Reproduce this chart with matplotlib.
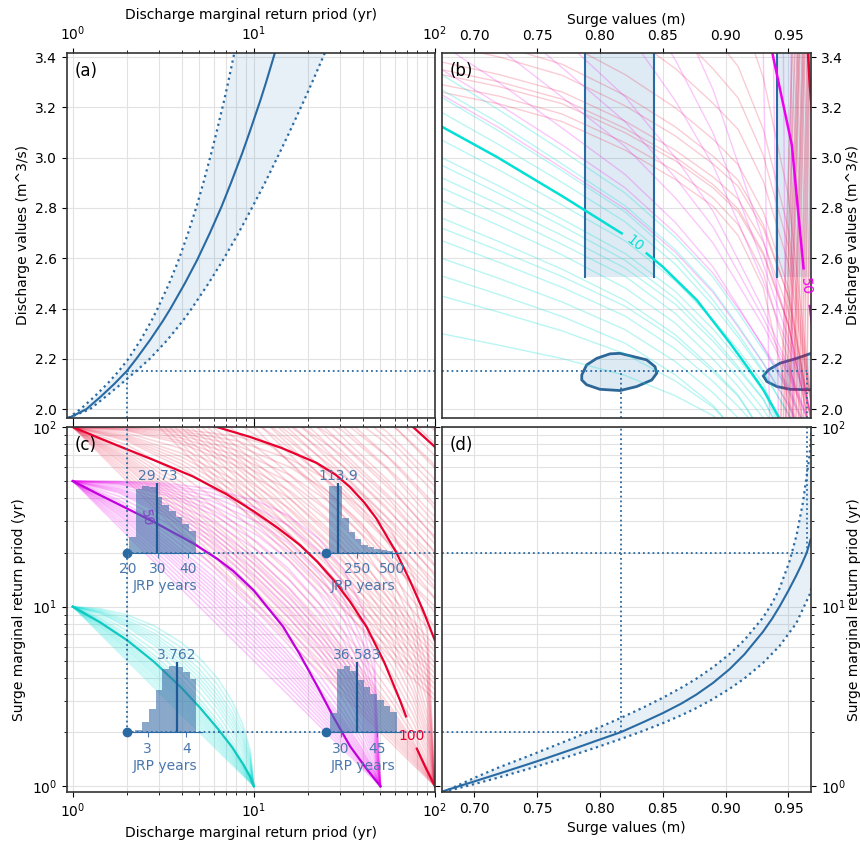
import numpy as np
import matplotlib
matplotlib.use("Agg")
import matplotlib.pyplot as plt

# ---------------- panel (a): discharge vs marginal return period
a_q = [1.965, 2.0, 2.05, 2.1, 2.152, 2.2, 2.275, 2.35, 2.4, 2.5, 2.593, 2.7, 2.806,
       2.9, 3.018, 3.1, 3.23, 3.3, 3.416]
a_t_mid = [0.951, 1.189, 1.429, 1.694, 1.991, 2.244, 2.673, 3.141, 3.467, 4.159, 4.864, 5.715,
           6.637, 7.482, 8.630, 9.462, 10.89, 11.69, 13.06]
a_t_lo = [0.946, 1.103, 1.318, 1.549, 1.799, 2.028, 2.371, 2.714, 2.941, 3.408, 3.843, 4.335,
          4.828, 5.264, 5.821, 6.219, 6.866, 7.217, 7.80]
a_t_hi = [0.946, 1.245, 1.522, 1.848, 2.243, 2.662, 3.332, 4.043, 4.537, 5.62, 6.755, 8.227,
          9.854, 11.52, 13.85, 15.69, 19.0, 21.0, 24.65]

# ---------------- panel (d): surge vs marginal return period
d_s_mid = [0.6753, 0.70, 0.7178, 0.74, 0.7575, 0.78, 0.7973, 0.8165, 0.835, 0.8502, 0.865,
           0.8767, 0.89, 0.9032, 0.915, 0.9297, 0.937, 0.943, 0.950, 0.9562, 0.9605, 0.9646, 0.9676]
d_t = [0.940, 1.065, 1.166, 1.308, 1.435, 1.625, 1.795, 2.0, 2.284, 2.559, 2.893, 3.240, 3.764,
       4.490, 5.431, 7.244, 8.568, 10.04, 12.29, 14.89, 17.20, 20.0, 23.6]
d_lo_s = [0.6753, 0.70, 0.7178, 0.74, 0.7575, 0.78, 0.7973, 0.8165, 0.835, 0.8502, 0.865,
          0.8767, 0.89, 0.9032, 0.915, 0.9297, 0.937, 0.943, 0.9509, 0.9565, 0.9615, 0.9668, 0.9685]
d_lo_t = [0.929, 1.114, 1.260, 1.446, 1.616, 1.869, 2.098, 2.400, 2.757, 3.116, 3.547, 3.972,
          4.600, 5.453, 6.524, 8.69, 10.45, 12.68, 17.91, 25.06, 37.93, 69.8, 99.3]
d_hi_s = [0.6753, 0.70, 0.7178, 0.74, 0.7575, 0.78, 0.7973, 0.8165, 0.835, 0.8502, 0.865,
          0.8767, 0.89, 0.9032, 0.915, 0.9297, 0.943, 0.9562, 0.9668, 0.975]
d_hi_t = [0.929, 1.029, 1.112, 1.232, 1.341, 1.503, 1.648, 1.832, 2.042, 2.248, 2.490, 2.726,
          3.062, 3.490, 3.987, 4.853, 6.049, 8.074, 11.65, 18.67]

# design events
event_tq = 2
event_q = 2.152
event_ts = [2, 20]
event_s = [0.8165, 0.9646]
anchor_tq = [2, 25]

# axis limits
t_lim = (0.93, 100)
q_lim = (1.965, 3.416)
s_lim = (0.6743, 0.968)

# ---------------- panel (c): joint return period isolines
# member shapes in normalised log space: u = log(TQ)/log(L), v = log(TS)/log(L)
u_grid = [0, 0.15, 0.3, 0.45, 0.6, 0.7, 0.8, 0.88, 0.94, 0.98, 1.0]
member_v = [
    [1, 0.850, 0.700, 0.550, 0.400, 0.300, 0.200, 0.120, 0.060, 0.020, 0],
    [1, 0.860, 0.714, 0.566, 0.416, 0.315, 0.212, 0.130, 0.066, 0.023, 0],
    [1, 0.869, 0.728, 0.583, 0.433, 0.331, 0.225, 0.139, 0.072, 0.026, 0],
    [1, 0.878, 0.741, 0.598, 0.448, 0.345, 0.237, 0.148, 0.078, 0.028, 0],
    [1, 0.887, 0.755, 0.614, 0.464, 0.360, 0.250, 0.158, 0.084, 0.031, 0],
    [1, 0.893, 0.765, 0.627, 0.478, 0.373, 0.262, 0.168, 0.091, 0.034, 0],
    [1, 0.900, 0.776, 0.640, 0.492, 0.387, 0.274, 0.178, 0.098, 0.038, 0],
    [1, 0.906, 0.786, 0.653, 0.506, 0.400, 0.286, 0.187, 0.104, 0.041, 0],
    [1, 0.912, 0.797, 0.666, 0.521, 0.414, 0.299, 0.197, 0.111, 0.045, 0],
    [1, 0.918, 0.807, 0.679, 0.535, 0.427, 0.311, 0.207, 0.118, 0.048, 0],
    [1, 0.925, 0.818, 0.692, 0.549, 0.441, 0.323, 0.217, 0.125, 0.052, 0],
    [1, 0.932, 0.832, 0.711, 0.571, 0.464, 0.345, 0.236, 0.140, 0.061, 0],
    [1, 0.939, 0.846, 0.730, 0.593, 0.487, 0.367, 0.255, 0.155, 0.070, 0],
    [1, 0.950, 0.866, 0.758, 0.626, 0.521, 0.400, 0.283, 0.177, 0.083, 0],
    [1, 0.961, 0.887, 0.787, 0.659, 0.556, 0.432, 0.312, 0.199, 0.096, 0],
    [1, 0.965, 0.897, 0.803, 0.680, 0.580, 0.457, 0.336, 0.220, 0.111, 0],
    [1, 0.969, 0.907, 0.819, 0.701, 0.603, 0.482, 0.361, 0.242, 0.127, 0],
    [1, 0.973, 0.917, 0.835, 0.722, 0.627, 0.507, 0.385, 0.263, 0.142, 0],
    [1, 0.977, 0.927, 0.851, 0.744, 0.651, 0.533, 0.410, 0.284, 0.158, 0],
    [1, 0.983, 0.940, 0.872, 0.772, 0.682, 0.566, 0.442, 0.312, 0.178, 0],
    [1, 0.989, 0.954, 0.893, 0.800, 0.714, 0.600, 0.475, 0.341, 0.199, 0],
    [1, 0.991, 0.961, 0.907, 0.822, 0.742, 0.633, 0.510, 0.376, 0.229, 0],
    [1, 0.993, 0.969, 0.922, 0.845, 0.770, 0.666, 0.546, 0.411, 0.259, 0],
    [1, 0.995, 0.976, 0.936, 0.866, 0.797, 0.697, 0.580, 0.445, 0.289, 0],
    [1, 0.997, 0.983, 0.950, 0.888, 0.824, 0.729, 0.615, 0.480, 0.319, 0],
    [1, 0.998, 0.988, 0.962, 0.911, 0.855, 0.770, 0.663, 0.532, 0.370, 0],
    [1, 0.999, 0.993, 0.975, 0.934, 0.887, 0.810, 0.711, 0.585, 0.421, 0],
]
jrp_levels = [10, 50, 100, 300, 1000]
jrp_members = [21, 27, 27, 27, 27]

c_cyan_tq = [1, 1.41, 2.0, 2.82, 3.98, 5.01, 6.31, 7.59, 8.71, 9.55, 10]
c_cyan_ts = [10, 8.2, 6.5, 4.92, 3.54, 2.76, 2.10, 1.65, 1.33, 1.13, 1]
c_mag_tq = [1, 1.42, 1.98, 2.82, 4.63, 6.31, 7.69, 10, 14.5, 17.8, 22.2, 27.5, 34, 41.7, 50]
c_mag_ts = [50, 41.7, 35.3, 29.5, 22.5, 18.4, 15.8, 12.3, 7.74, 5.5, 3.67, 2.43, 1.67, 1.26, 1]
c_red_tq = [1, 1.41, 2.0, 2.82, 4.6, 7.08, 10, 13.5, 18.0, 22.4, 28.0, 33.9, 42.0, 52.5,
            64.0, 69.2, np.nan, 79.4, 89.1, 100]
c_red_ts = [100, 86.5, 75.0, 65.3, 53.1, 42.2, 33.9, 27.5, 22.0, 17.8, 13.8, 10.7, 7.69, 4.90,
            3.02, 2.45, np.nan, 1.62, 1.26, 1]
c_red2_tq = [5.25, 6.24, 9.5, 14.1, 22.2, 28.2, 33.8, 40.7, 47.5, 61.2, 72.4, 85.9, 100]
c_red2_ts = [104.7, 100, 88.1, 76.7, 63.1, 54.3, 46.5, 38.0, 30.9, 20.0, 14.1, 9.55, 6.46]
c_red3_tq = [72, 75.7, 100, 104]
c_red3_ts = [104, 100, 77.4, 73]

# histograms of joint return periods
hist_tq_span = [(2, 5.18), (25, 64.7), (2, 5.18), (25, 64.7)]
hist_ts_span = [(20, 49), (20, 49), (2, 4.9), (2, 4.9)]
hist_edges = [
    [20.4, 22.6, 24.8, 27.0, 29.2, 31.4, 33.6, 35.8, 38.0, 40.2, 42.4],
    [50, 96, 142, 188, 234, 280, 326, 372, 418, 464, 510],
    [2.68, 2.86, 3.03, 3.21, 3.38, 3.56, 3.74, 3.91, 4.09, 4.26],
    [25.5, 28.3, 31.1, 33.9, 36.7, 39.5, 42.3, 45.1, 47.9, 50.7, 53.5],
]
hist_counts = [
    [45, 190, 198, 196, 165, 140, 125, 105, 85, 65],
    [185, 185, 97, 57, 37, 22, 15, 11, 7, 5],
    [8, 30, 70, 130, 195, 205, 200, 185, 165],
    [60, 195, 205, 190, 160, 138, 118, 100, 80, 62],
]
hist_median = [29.73, 113.9, 3.762, 36.583]
hist_xlim = [(19.8, 44.5), (26, 562), (2.475, 4.41), (23.75, 55)]
hist_ticks = [[20, 30, 40], [250, 500], [3, 4], [30, 45]]

# ---------------- panel (b): isolines in physical space
b_s_grid = [0.674, 0.72, 0.77, 0.82, 0.86, 0.89, 0.91, 0.93, 0.95, 0.97]
b_cyan_q = [
    [3.27, 3.136, 2.974, 2.809, 2.634, 2.471, 2.332, 2.184, 2.017, 1.8],
    [3.24, 3.104, 2.947, 2.784, 2.606, 2.434, 2.300, 2.152, 1.980, 1.8],
    [3.18, 3.050, 2.901, 2.745, 2.576, 2.412, 2.285, 2.144, 1.981, 1.8],
    [3.07, 2.950, 2.811, 2.669, 2.510, 2.355, 2.236, 2.102, 1.85, 1.7],
    [3.00, 2.886, 2.755, 2.619, 2.468, 2.318, 2.201, 2.075, 1.85, 1.7],
    [2.97, 2.857, 2.728, 2.592, 2.440, 2.286, 2.168, 2.041, 1.85, 1.7],
    [2.92, 2.813, 2.690, 2.561, 2.417, 2.270, 2.158, 2.038, 1.85, 1.7],
    [2.88, 2.776, 2.655, 2.528, 2.380, 2.235, 2.125, 1.999, 1.85, 1.7],
    [2.83, 2.729, 2.613, 2.482, 2.342, 2.199, 2.090, 1.965, 1.8, 1.7],
    [2.76, 2.665, 2.556, 2.432, 2.296, 2.159, 2.056, 1.9, 1.8, 1.7],
    [2.72, 2.630, 2.527, 2.409, 2.279, 2.149, 2.051, 1.9, 1.8, 1.7],
    [2.67, 2.583, 2.484, 2.370, 2.239, 2.110, 2.011, 1.9, 1.8, 1.7],
    [2.60, 2.519, 2.426, 2.316, 2.189, 2.065, 1.965, 1.88, 1.8, 1.7],
    [2.53, 2.455, 2.368, 2.262, 2.136, 2.015, 1.9, 1.85, 1.8, 1.7],
    [2.45, 2.385, 2.311, 2.220, 2.112, 2.008, 1.9, 1.85, 1.8, 1.7],
    [2.30, 2.254, 2.201, 2.134, 2.053, 1.974, 1.9, 1.85, 1.8, 1.7],
    [3.33, 3.188, 3.027, 2.859, 2.683, 2.525, 2.384, 2.235, 2.081, 1.85],
]
b_mag_q = [
    [3.25, 3.118, 2.958, 2.796, 2.624, 2.464, 2.326, 2.181, 2.016, 1.8],
    [3.35, 3.210, 3.050, 2.880, 2.700, 2.540, 2.400, 2.250, 2.090, 1.85],
    [3.45, 3.297, 3.117, 2.933, 2.742, 2.565, 2.408, 2.246, 2.069, 1.85],
    [3.60, 3.433, 3.240, 3.044, 2.840, 2.660, 2.496, 2.330, 2.138, 1.9],
    [3.75, 3.568, 3.357, 3.143, 2.920, 2.724, 2.545, 2.361, 2.154, 1.9],
    [3.90, 3.700, 3.474, 3.242, 3.000, 2.787, 2.594, 2.395, 2.170, 1.9],
    [4.30, 4.064, 3.790, 3.510, 3.226, 2.969, 2.743, 2.507, 2.245, 1.95],
    [4.60, 4.334, 4.026, 3.709, 3.388, 3.098, 2.842, 2.576, 2.281, 1.95],
    [5.00, 4.693, 4.338, 3.974, 3.604, 3.270, 2.976, 2.669, 2.329, 1.95],
]
b_red_q = [
    [3.26, 3.213, 3.143, 3.030, 2.913, 2.807, 2.690, 2.483, 2.030, 1.8],
    [3.29, 3.244, 3.173, 3.059, 2.946, 2.840, 2.734, 2.541, 2.190, 1.8],
    [3.33, 3.282, 3.214, 3.099, 2.987, 2.880, 2.784, 2.613, 2.334, 1.85],
    [3.35, 3.301, 3.232, 3.116, 3.002, 2.893, 2.796, 2.623, 2.339, 1.85],
    [3.38, 3.330, 3.261, 3.145, 3.029, 2.923, 2.835, 2.665, 2.394, 1.9],
    [3.45, 3.400, 3.327, 3.206, 3.086, 2.975, 2.886, 2.718, 2.448, 1.9],
    [3.50, 3.446, 3.371, 3.247, 3.122, 3.006, 2.910, 2.734, 2.448, 1.9],
    [3.60, 3.543, 3.463, 3.330, 3.198, 3.073, 2.972, 2.784, 2.480, 1.9],
    [3.80, 3.738, 3.648, 3.499, 3.354, 3.216, 3.112, 2.906, 2.580, 1.95],
    [4.00, 3.931, 3.831, 3.666, 3.505, 3.353, 3.237, 3.009, 2.647, 1.95],
    [4.20, 4.124, 4.015, 3.833, 3.657, 3.489, 3.362, 3.112, 2.714, 1.95],
    [4.60, 4.510, 4.381, 4.168, 3.960, 3.762, 3.612, 3.317, 2.848, 1.95],
]
# nearly vertical isolines hugging the right edge (surge at top / bottom of panel)
b_steep_red_top = [0.953, 0.955, 0.957, 0.958, 0.959, 0.961, 0.962, 0.963, 0.965, 0.966, 0.967, 0.969]
b_steep_red_bot = [0.944, 0.946, 0.948, 0.950, 0.951, 0.953, 0.954, 0.956, 0.958, 0.960, 0.962, 0.964]
b_steep_mag_top = [0.930, 0.938, 0.946, 0.952]
b_steep_mag_bot = [0.935, 0.942, 0.948, 0.953]

b_cyan_med_s = [0.6745, 0.7178, 0.7709, 0.8173, np.nan, 0.8372, 0.850, 0.877, 0.9036, 0.919, 0.930, 0.942]
b_cyan_med_q = [3.122, 3.003, 2.844, 2.699, np.nan, 2.619, 2.566, 2.434, 2.262, 2.156, 2.077, 1.971]
b_mag_med_s = [0.937, 0.9527, 0.962, np.nan, 0.967, 0.972]
b_mag_med_q = [3.42, 3.05, 2.56, np.nan, 2.41, 2.2]
b_red_med_s = [0.9655, 0.967, 0.970]
b_red_med_q = [3.42, 3.29, 3.1]

# surge confidence intervals for the two events, and joint density blobs
b_band_s = [(0.7881, 0.843), (0.9412, 0.99)]
b_band_qmin = 2.527
b_blob1_s = [0.7855, 0.7894, 0.7974, 0.808, 0.816, 0.8266, 0.8372, 0.8438, 0.8452,
             0.8412, 0.8292, 0.816, 0.800, 0.7894, 0.7855]
b_blob1_q = [2.136, 2.176, 2.202, 2.220, 2.222, 2.209, 2.196, 2.169, 2.143,
             2.116, 2.090, 2.074, 2.079, 2.097, 2.116]
b_blob2_s = [0.968, 0.9566, 0.9434, 0.934, 0.930, 0.9328, 0.9407, 0.9513, 0.968, 0.99, 0.995, 0.99]
b_blob2_q = [2.222, 2.202, 2.183, 2.156, 2.132, 2.110, 2.090, 2.079, 2.077, 2.09, 2.15, 2.21]

blue = "#2a6aa3"
band = "tab:blue"
cyan = "#05dfd5"
magenta = "#ee00ee"
red = "#e8002e"
hist_txt = "#4a78ad"

fig = plt.figure(figsize=(8.6, 8.41), dpi=100)
ax_a = fig.add_axes([0.0779, 0.5030, 0.4279, 0.4340])
ax_b = fig.add_axes([0.5140, 0.5030, 0.4291, 0.4340])
ax_c = fig.add_axes([0.0779, 0.0583, 0.4279, 0.4340])
ax_d = fig.add_axes([0.5140, 0.0583, 0.4291, 0.4340])

# ---- (a)
ax_a.fill_betweenx(a_q, a_t_lo, a_t_hi, color=band, alpha=0.11, lw=0)
ax_a.plot(a_t_mid, a_q, color=blue, lw=1.5)
ax_a.plot(a_t_lo, a_q, ":", color=blue, lw=1.6)
ax_a.plot(a_t_hi, a_q, ":", color=blue, lw=1.6)
ax_a.plot([event_tq, t_lim[1]], [event_q, event_q], ":", color=blue, lw=1.3)
ax_a.plot([event_tq, event_tq], [q_lim[0], event_q], ":", color=blue, lw=1.3)
ax_a.set_xscale("log")
ax_a.set_xlim(*t_lim)
ax_a.set_ylim(*q_lim)
ax_a.xaxis.tick_top()
ax_a.xaxis.set_label_position("top")
ax_a.tick_params(axis="x", which="both", bottom=True)
ax_a.set_xlabel("Discharge marginal return priod (yr)")
ax_a.set_ylabel("Discharge values (m^3/s)")
ax_a.grid(True, which="both", color="#e2e2e2", lw=0.8)

# ---- (b)
for qs in b_red_q:
    ax_b.plot(b_s_grid, qs, color=red, alpha=0.2, lw=1)
for qs in b_mag_q:
    ax_b.plot(b_s_grid, qs, color=magenta, alpha=0.22, lw=1)
for qs in b_cyan_q:
    ax_b.plot(b_s_grid, qs, color=cyan, alpha=0.28, lw=1)
for top, bot in zip(b_steep_red_top, b_steep_red_bot):
    ax_b.plot([top, bot], q_lim[::-1], color=red, alpha=0.28, lw=1.2)
for top, bot in zip(b_steep_mag_top, b_steep_mag_bot):
    ax_b.plot([top, bot], q_lim[::-1], color=magenta, alpha=0.22, lw=1)
for lo, hi in b_band_s:
    ax_b.fill_between([lo, hi], b_band_qmin, q_lim[1], color=band, alpha=0.14, lw=0)
    ax_b.plot([lo, lo], [b_band_qmin, q_lim[1]], color=blue, lw=1.5)
    ax_b.plot([hi, hi], [b_band_qmin, q_lim[1]], color=blue, lw=1.5)
ax_b.plot(b_cyan_med_s, b_cyan_med_q, color=cyan, lw=1.8)
ax_b.plot(b_mag_med_s, b_mag_med_q, color=magenta, lw=1.8)
ax_b.plot(b_red_med_s, b_red_med_q, color=red, lw=1.8)
ax_b.text(0.8279, 2.659, "10", color=cyan, rotation=-39, ha="center", va="center", fontsize=10)
ax_b.text(0.9635, 2.49, "50", color=magenta, rotation=-85, ha="center", va="center", fontsize=10)
for bs, bq in [(b_blob1_s, b_blob1_q), (b_blob2_s, b_blob2_q)]:
    ax_b.fill(bs, bq, facecolor=band, alpha=0.15, lw=0)
    ax_b.fill(bs, bq, facecolor="none", edgecolor="#2d6797", lw=2)
ax_b.plot([s_lim[0], event_s[1]], [event_q, event_q], ":", color=blue, lw=1.3)
for s in event_s:
    ax_b.plot([s, s], [q_lim[0], event_q], ":", color=blue, lw=1.3)
ax_b.set_xlim(*s_lim)
ax_b.set_ylim(*q_lim)
ax_b.set_xticks([0.70, 0.75, 0.80, 0.85, 0.90, 0.95])
ax_b.xaxis.tick_top()
ax_b.xaxis.set_label_position("top")
ax_b.yaxis.tick_right()
ax_b.yaxis.set_label_position("right")
ax_b.set_xlabel("Surge values (m)")
ax_b.set_ylabel("Discharge values (m^3/s)", labelpad=2)
ax_b.grid(True, color="#e2e2e2", lw=0.8)

# ---- (c)
ens_colors = [cyan, magenta, red, red, red]
ens_alpha = [0.22, 0.2, 0.16, 0.16, 0.16]
for lev, n, col, al in list(zip(jrp_levels, jrp_members, ens_colors, ens_alpha))[::-1]:
    for v in member_v[:n]:
        ax_c.plot(np.power(lev, u_grid), np.power(lev, v), color=col, alpha=al, lw=1.2)
ax_c.plot(c_red3_tq, c_red3_ts, color=red, lw=1.6)
ax_c.plot(c_red2_tq, c_red2_ts, color=red, lw=1.6)
ax_c.plot(c_red_tq, c_red_ts, color=red, lw=1.6)
ax_c.plot(c_mag_tq, c_mag_ts, color="#c000dc", lw=1.6)
ax_c.plot(c_cyan_tq, c_cyan_ts, color="#10c8c0", lw=1.6)
ax_c.text(74, 1.9, "100", color=red, ha="center", va="center", fontsize=10)
ax_c.text(2.54, 31.3, "50", color=magenta, rotation=-80, ha="center", va="center", fontsize=10)

ax_c.plot([event_tq, event_tq], [event_ts[0], t_lim[1]], ":", color=blue, lw=1.3)
for ts in event_ts:
    ax_c.plot([event_tq, t_lim[1]], [ts, ts], ":", color=blue, lw=1.3)
    for tq in anchor_tq:
        ax_c.plot(tq, ts, "o", color=blue, ms=6, zorder=5)

ax_c.set_xscale("log")
ax_c.set_yscale("log")
ax_c.set_xlim(*t_lim)
ax_c.set_ylim(*t_lim)
ax_c.tick_params(which="both", top=True, right=True)
ax_c.set_xlabel("Discharge marginal return priod (yr)")
ax_c.set_ylabel("Surge marginal return priod (yr)")
ax_c.grid(True, which="both", color="#e2e2e2", lw=0.8)

for k in range(4):
    (x0, x1), (y0, y1) = hist_tq_span[k], hist_ts_span[k]
    ins = ax_c.inset_axes([x0, y0, x1 - x0, y1 - y0], transform=ax_c.transData)
    ins.patch.set_alpha(0)
    for side in ["left", "top", "right"]:
        ins.spines[side].set_visible(False)
    ins.spines["bottom"].set_color(blue)
    ins.stairs(hist_counts[k], hist_edges[k], fill=True, color="#3b6fa8", alpha=0.6)
    ins.axvline(hist_median[k], color="#1f5a96", lw=1.6)
    ins.text(hist_median[k], 1.0, str(hist_median[k]), transform=ins.get_xaxis_transform(),
             ha="center", va="bottom", color=hist_txt, fontsize=10)
    ins.set_xlim(*hist_xlim[k])
    ins.set_ylim(0, max(hist_counts[k]) * 1.05)
    ins.set_xticks(hist_ticks[k])
    ins.set_yticks([])
    ins.tick_params(axis="x", colors=hist_txt, labelsize=10)
    ins.set_xlabel("JRP years", color=hist_txt, fontsize=10, labelpad=2)

# ---- (d)
ax_d.fill(np.r_[d_lo_s, d_hi_s[::-1]], np.r_[d_lo_t, d_hi_t[::-1]], color=band, alpha=0.11, lw=0)
ax_d.plot(d_s_mid, d_t, color=blue, lw=1.5)
ax_d.plot(d_lo_s, d_lo_t, ":", color=blue, lw=1.6)
ax_d.plot(d_hi_s, d_hi_t, ":", color=blue, lw=1.6)
for s, ts in zip(event_s, event_ts):
    ax_d.plot([s_lim[0], s], [ts, ts], ":", color=blue, lw=1.3)
    ax_d.plot([s, s], [ts, t_lim[1]], ":", color=blue, lw=1.3)
ax_d.set_yscale("log")
ax_d.set_xlim(*s_lim)
ax_d.set_ylim(*t_lim)
ax_d.set_xticks([0.70, 0.75, 0.80, 0.85, 0.90, 0.95])
ax_d.yaxis.tick_right()
ax_d.yaxis.set_label_position("right")
ax_d.set_xlabel("Surge values (m)")
ax_d.set_ylabel("Surge marginal return priod (yr)", labelpad=1)
ax_d.grid(True, which="both", color="#e2e2e2", lw=0.8)

for ax, tag in zip([ax_a, ax_b, ax_c, ax_d], ["(a)", "(b)", "(c)", "(d)"]):
    ax.set_axisbelow(True)
    for sp in ax.spines.values():
        sp.set_color("#333333")
        sp.set_linewidth(1.2)
    ax.text(0.02, 0.95, tag, transform=ax.transAxes, fontsize=12, va="center", zorder=6)

fig.savefig("out.png", dpi=100)
